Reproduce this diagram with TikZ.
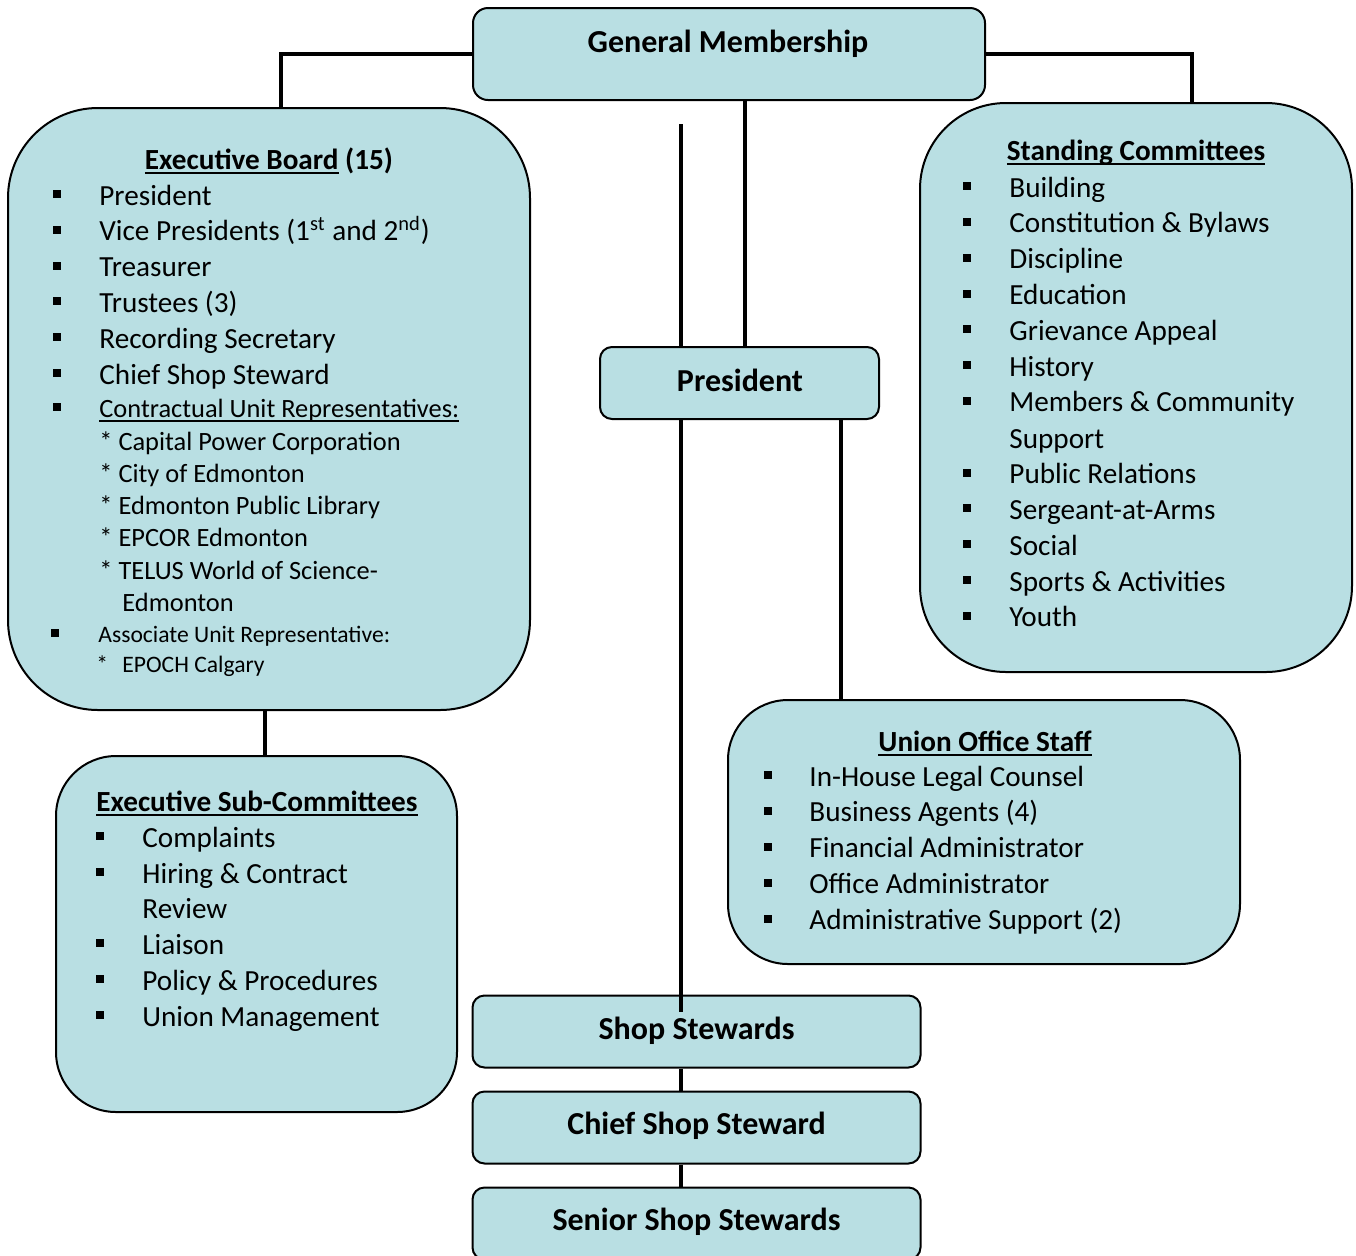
\documentclass[tikz,border=0pt]{standalone}
\usepackage{fontspec}
\setmainfont{Carlito}
\usetikzlibrary{positioning,backgrounds}

\definecolor{boxfill}{RGB}{185,223,227}

% underline with a fixed depth and thickness
\newsavebox{\ulbox}
\newcommand{\ulin}[1]{\sbox{\ulbox}{#1}\rlap{\rule[-2.3pt]{\wd\ulbox}{0.9pt}}\usebox{\ulbox}}

\tikzset{
  box/.style={draw, line width=1pt, fill=boxfill, inner sep=0pt},
  link/.style={line width=2pt},
  title/.style={font=\fontsize{16}{19}\selectfont\bfseries, anchor=base, inner sep=0pt},
  head/.style={font=\fontsize{14.6}{18}\selectfont\bfseries, anchor=base, inner sep=0pt},
  item/.style={font=\fontsize{14.6}{18}\selectfont, anchor=base west, inner sep=0pt},
  subitem/.style={font=\fontsize{13.2}{16}\selectfont, anchor=base west, inner sep=0pt},
  smallitem/.style={font=\fontsize{11.8}{14}\selectfont, anchor=base west, inner sep=0pt},
  bul/.style={fill=black, minimum size=4pt, inner sep=0pt},
}

\begin{document}
\begin{tikzpicture}[x=0.5pt, y=-0.5pt]
  \useasboundingbox (0,0) rectangle (1356,1255);

  % boxes
  \node[box, minimum width=256pt, minimum height=46pt, rounded corners=7.5pt] (gm) at (729,54) {};
  \node[box, minimum width=261pt, minimum height=301pt, rounded corners=45pt] (eb) at (269,409) {};
  \node[box, minimum width=216pt, minimum height=284.5pt, rounded corners=43pt] (sc) at (1136,387.5) {};
  \node[box, minimum width=256pt, minimum height=132pt, rounded corners=30pt] (uos) at (984,832) {};
  \node[box, minimum width=200.5pt, minimum height=178pt, rounded corners=30pt] (esc) at (256.5,934) {};
  \node[box, minimum width=224pt, minimum height=36pt, rounded corners=6pt] (ss) at (696.5,1031.5) {};
  \node[box, minimum width=224pt, minimum height=36pt, rounded corners=6pt] (css) at (696.5,1127.5) {};
  \node[box, minimum width=224pt, minimum height=36pt, rounded corners=6pt] (sss) at (696.5,1223.5) {};

  \coordinate (spine) at (681,124);
  \coordinate (spineend) at (681,1012);
  \draw[link] (spine) -- (spineend);

  \node[box, minimum width=139.5pt, minimum height=36pt, rounded corners=6pt] (pres) at (739.5,383) {};

  % titles
  \node[title] (gmt) at (728,52) {General Membership};
  \node[title] (prest) at (740,391) {President};
  \node[title] (sst) at (696.5,1039) {Shop Stewards};
  \node[title] (csst) at (696.5,1134) {Chief Shop Steward};
  \node[title] (ssst) at (696.5,1230) {Senior Shop Stewards};

  % Executive Board
  \node[head] (ebh) at (269,169) {\ulin{Executive Board} (15)};
  \foreach \txt [count=\i from 0] in {President,
      {Vice Presidents (1\textsuperscript{st} and 2\textsuperscript{nd})},
      Treasurer, Trustees (3), Recording Secretary, Chief Shop Steward} {
    \node[bul] (ebb\i) at (57,{194+35.8*\i}) {};
    \node[item] (ebi\i) at (99,{205+35.8*\i}) {\txt};
  }
  \node[bul] (ebb6) at (57,407) {};
  \node[subitem] (ebi6) at (99,417) {\ulin{Contractual Unit Representatives:}};
  \foreach \txt [count=\i from 0] in {Capital Power Corporation, City of Edmonton,
      Edmonton Public Library, EPCOR Edmonton, TELUS World of Science-} {
    \node[subitem] (ebu\i) at (99,{450+32.25*\i}) {* \txt};
  }
  \node[subitem] (ebu5) at (122,611) {Edmonton};
  \node[bul] (ebb7) at (55,633) {};
  \node[smallitem] (ebi7) at (98,642) {Associate Unit Representative:};
  \node[smallitem] (ebs) at (96,672) {*};
  \node[smallitem] (ebi8) at (122,672) {EPOCH Calgary};

  % Standing Committees
  \node[head] (sch) at (1136,160) {\ulin{Standing Committees}};
  \foreach \txt [count=\i from 0] in {Building, Constitution \& Bylaws, Discipline,
      Education, Grievance Appeal, History, Members \& Community} {
    \node[bul] (scb\i) at (967,{186+35.83*\i}) {};
    \node[item] (sci\i) at (1009,{197+35.83*\i}) {\txt};
  }
  \node[item] (scsup) at (1009,448) {Support};
  \foreach \txt [count=\i from 7] in {Public Relations, Sergeant-at-Arms, Social,
      Sports \& Activities, Youth} {
    \node[bul] (scb\i) at (967,{186+35.83*(\i+1)}) {};
    \node[item] (sci\i) at (1009,{197+35.83*(\i+1)}) {\txt};
  }

  % Union Office Staff
  \node[head] (uosh) at (985,751) {\ulin{Union Office Staff}};
  \foreach \txt [count=\i from 0] in {In-House Legal Counsel, Business Agents (4),
      Financial Administrator, Office Administrator, Administrative Support (2)} {
    \node[bul] (uosb\i) at (768,{775+35.9*\i}) {};
    \node[item] (uosi\i) at (809,{786+35.9*\i}) {\txt};
  }

  % Executive Sub-Committees
  \node[head] (esch) at (257,811) {\ulin{Executive Sub-Committees}};
  \node[bul] (escb0) at (100,836) {};
  \node[item] (esci0) at (142,847) {Complaints};
  \node[bul] (escb1) at (100,872) {};
  \node[item] (esci1) at (142,883) {Hiring \& Contract};
  \node[item] (escrev) at (142,918.6) {Review};
  \foreach \txt [count=\i from 2] in {Liaison, Policy \& Procedures, Union Management} {
    \node[bul] (escb\i) at (100,{943.4+35.8*(\i-2)}) {};
    \node[item] (esci\i) at (142,{954.4+35.8*(\i-2)}) {\txt};
  }

  % connectors
  \begin{scope}[on background layer]
    \draw[link] (gm.west) -| ([xshift=6pt]eb.north);
    \draw[link] (gm.east) -| ([xshift=28pt]sc.north);
    \draw[link] ([xshift=7.75pt]gm.south) -- ([xshift=7.75pt]gm.south |- pres.north);
    \draw[link] ([xshift=50.5pt]pres.south) -- ([xshift=50.5pt]pres.south |- uos.north);
    \draw[link] ([xshift=-2pt]eb.south) -- ([xshift=-2pt]eb.south |- esc.north);
    \draw[link] ([xshift=-7.75pt]ss.south) -- ([xshift=-7.75pt]css.north);
    \draw[link] ([xshift=-7.75pt]css.south) -- ([xshift=-7.75pt]sss.north);
  \end{scope}
\end{tikzpicture}
\end{document}
